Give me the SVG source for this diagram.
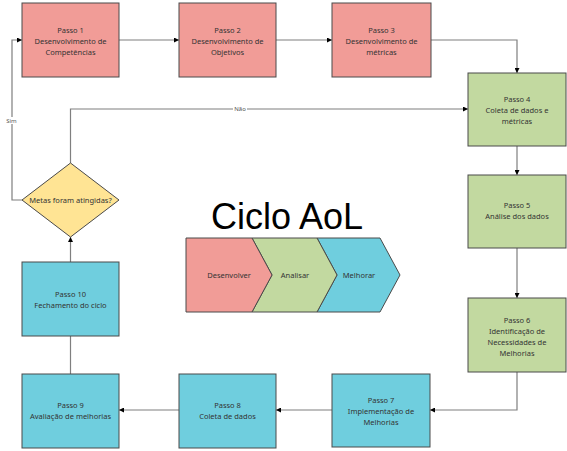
<svg xmlns="http://www.w3.org/2000/svg" width="567" height="451" viewBox="0 0 567 451">
<defs>
<marker id="arr" viewBox="0 0 10 10" refX="10" refY="5" markerWidth="5" markerHeight="5" markerUnits="userSpaceOnUse" orient="auto">
<path d="M0,0 L10,5 L0,10 z" fill="#000"/>
</marker>
<style>
.box{stroke:#4a4a4a;stroke-width:1}
.red{fill:#F19C97}
.green{fill:#C2D9A0}
.blue{fill:#6FCEDE}
.yellow{fill:#FFE494}
.t{font-family:"Noto Sans","Open Sans","Liberation Sans",sans-serif;font-size:7.5px;fill:#333;text-anchor:middle}
.lbl{font-family:"Noto Sans","Liberation Sans",sans-serif;font-size:6px;fill:#555;text-anchor:middle}
.c{fill:none;stroke:#7f7f7f;stroke-width:1.2}
</style>
</defs>
<rect width="567" height="451" fill="#fff"/>

<g id="connectors">
<path class="c" d="M119,40 H179" marker-end="url(#arr)"/>
<path class="c" d="M276,40 H332" marker-end="url(#arr)"/>
<path class="c" d="M431,40 H517 V73" marker-end="url(#arr)"/>
<path class="c" d="M517,146 V175" marker-end="url(#arr)"/>
<path class="c" d="M517,248 V298" marker-end="url(#arr)"/>
<path class="c" d="M517,372 V410 H430" marker-end="url(#arr)"/>
<path class="c" d="M332,410 H276" marker-end="url(#arr)"/>
<path class="c" d="M179,410 H119" marker-end="url(#arr)"/>
<path class="c" d="M70.5,374 V336"/>
<path class="c" d="M70.5,262 V237" marker-end="url(#arr)"/>
<path class="c" d="M22,200 H12 V40 H22" marker-end="url(#arr)"/>
<path class="c" d="M70.5,163 V109 H468" marker-end="url(#arr)"/>
<rect x="233" y="105" width="14" height="7" fill="#fff"/>
<text class="lbl" x="240" y="111">Não</text>
<rect x="5" y="117" width="13" height="7" fill="#fff"/>
<text class="lbl" x="11.5" y="123">Sim</text>
</g>

<g id="passo1">
<rect class="box red" x="22" y="3" width="97" height="74"/>
<text class="t" x="70.5" y="33">Passo 1</text>
<text class="t" x="70.5" y="44">Desenvolvimento de</text>
<text class="t" x="70.5" y="55">Competências</text>
</g>
<g id="passo2">
<rect class="box red" x="179" y="3" width="97" height="74"/>
<text class="t" x="227.5" y="33">Passo 2</text>
<text class="t" x="227.5" y="44">Desenvolvimento de</text>
<text class="t" x="227.5" y="55">Objetivos</text>
</g>
<g id="passo3">
<rect class="box red" x="332" y="3" width="99" height="74"/>
<text class="t" x="381.5" y="33">Passo 3</text>
<text class="t" x="381.5" y="44">Desenvolvimento de</text>
<text class="t" x="381.5" y="55">métricas</text>
</g>
<g id="passo4">
<rect class="box green" x="468" y="73" width="98" height="73"/>
<text class="t" x="517" y="102">Passo 4</text>
<text class="t" x="517" y="113">Coleta de dados e</text>
<text class="t" x="517" y="124">métricas</text>
</g>
<g id="passo5">
<rect class="box green" x="468" y="175" width="98" height="73"/>
<text class="t" x="517" y="208">Passo 5</text>
<text class="t" x="517" y="219">Análise dos dados</text>
</g>
<g id="passo6">
<rect class="box green" x="468" y="298" width="98" height="74"/>
<text class="t" x="517" y="323">Passo 6</text>
<text class="t" x="517" y="334">Identificação de</text>
<text class="t" x="517" y="345">Necessidades de</text>
<text class="t" x="517" y="356">Melhorias</text>
</g>
<g id="passo7">
<rect class="box blue" x="332" y="374" width="98" height="73"/>
<text class="t" x="381" y="403">Passo 7</text>
<text class="t" x="381" y="414">Implementação de</text>
<text class="t" x="381" y="425">Melhorias</text>
</g>
<g id="passo8">
<rect class="box blue" x="179" y="374" width="97" height="74"/>
<text class="t" x="227.5" y="408">Passo 8</text>
<text class="t" x="227.5" y="419">Coleta de dados</text>
</g>
<g id="passo9">
<rect class="box blue" x="22" y="374" width="97" height="74"/>
<text class="t" x="70.5" y="408">Passo 9</text>
<text class="t" x="70.5" y="419">Avaliação de melhorias</text>
</g>
<g id="passo10">
<rect class="box blue" x="22" y="262" width="97" height="74"/>
<text class="t" x="70.5" y="297">Passo 10</text>
<text class="t" x="70.5" y="308">Fechamento do ciclo</text>
</g>
<g id="decisao">
<polygon class="box yellow" points="70.5,163 119,200 70.5,237 22,200"/>
<text class="t" x="70.5" y="203">Metas foram atingidas?</text>
</g>

<g id="titulo">
<text x="287" y="229" font-family="Liberation Sans, Arial, sans-serif" font-size="36" fill="#000" text-anchor="middle">Ciclo AoL</text>
</g>
<g id="ciclo">
<polygon class="box blue" points="317,238 380,238 400,275 380,312 317,312 337,275"/>
<polygon class="box green" points="252,238 317,238 337,275 317,312 252,312 272,275"/>
<polygon class="box red" points="186,238 252,238 272,275 252,312 186,312"/>
<text class="t" x="229" y="278">Desenvolver</text>
<text class="t" x="295" y="278">Analisar</text>
<text class="t" x="359" y="278">Melhorar</text>
</g>
</svg>
